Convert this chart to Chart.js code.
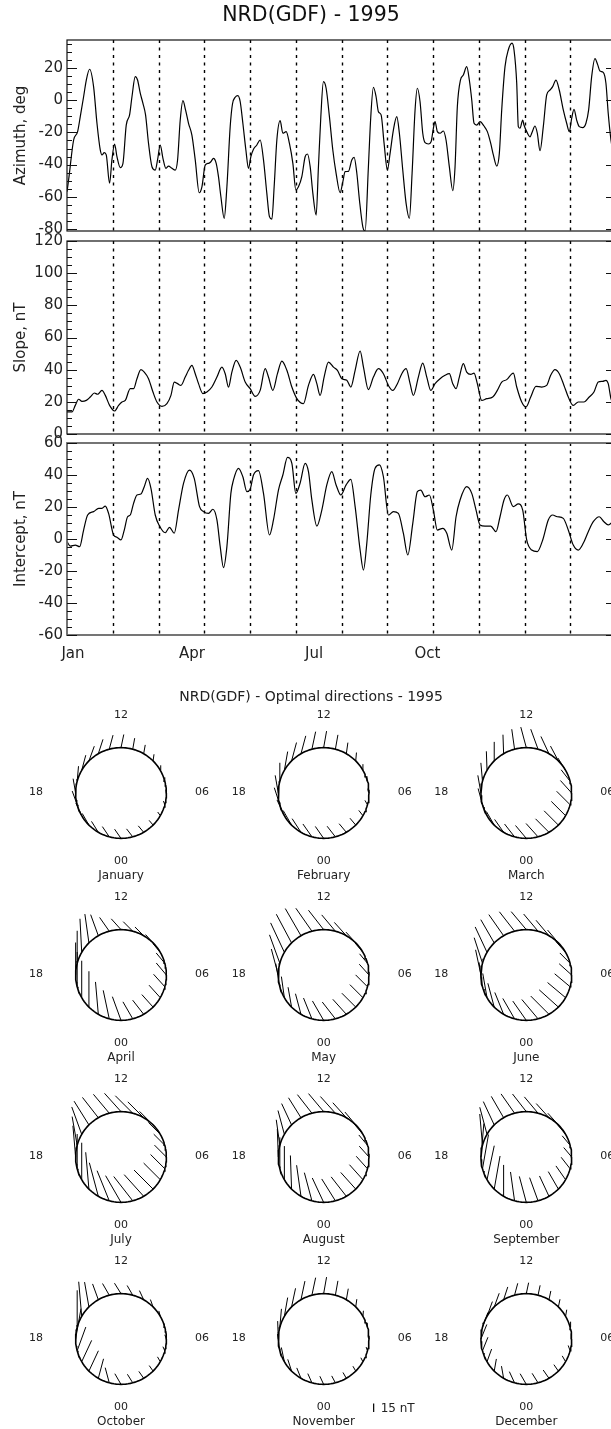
<!DOCTYPE html>
<html>
<head>
<meta charset="utf-8">
<title>NRD(GDF) - 1995</title>
<script src="https://cdn.jsdelivr.net/npm/chart.js@4.4.1/dist/chart.umd.min.js"></script>
<style>
  html, body { margin: 0; padding: 0; background: #fff; overflow: hidden; }
  #page { position: relative; width: 622px; height: 1429px; }
  canvas { position: absolute; left: 0; }
</style>
</head>
<body>
<div id="page">
  <canvas id="azimuth" width="622" height="246" style="top:0px"></canvas>
  <canvas id="slope" width="622" height="233" style="top:221px"></canvas>
  <canvas id="intercept" width="622" height="257" style="top:423px"></canvas>
  <canvas id="directions" width="622" height="749" style="top:680px"></canvas>
</div>
<script>
// ---------- time axis (months since start of 1995) ----------
const monthBounds = [1, 2, 3, 4, 5, 6, 7, 8, 9, 10, 11];
const monthTickLabels = ['Jan', 'Apr', 'Jul', 'Oct'];
const monthTickPos = [0.13, 2.73, 5.40, 7.88];

// ---------- azimuth, deg ----------
const azMonth = [0.00,0.035,0.145,0.232,0.29,0.363,0.422,0.494,0.581,0.655,
  0.727,0.764,0.815,0.858,0.931,0.982,1.040,1.092,1.164,1.223,
  1.295,1.368,1.420,1.492,1.542,1.601,1.660,1.717,1.782,1.857,
  1.929,1.979,2.038,2.097,2.162,2.219,2.294,2.366,2.417,2.475,
  2.534,2.591,2.656,2.730,2.803,2.890,2.949,3.021,3.093,3.145,
  3.202,3.261,3.311,3.364,3.436,3.495,3.567,3.617,3.676,3.735,
  3.786,3.844,3.910,3.967,4.019,4.076,4.150,4.222,4.295,4.368,
  4.425,4.478,4.528,4.587,4.659,4.718,4.790,4.862,4.937,5.002,
  5.059,5.133,5.205,5.256,5.315,5.374,5.446,5.496,5.548,5.605,
  5.664,5.736,5.810,5.882,5.970,6.029,6.079,6.151,6.225,6.276,
  6.335,6.392,6.466,6.516,6.588,6.640,6.697,6.756,6.807,6.866,
  6.931,7.003,7.062,7.134,7.208,7.265,7.339,7.412,7.484,7.543,
  7.608,7.658,7.717,7.776,7.827,7.899,7.958,8.008,8.045,8.095,
  8.154,8.226,8.285,8.357,8.432,8.482,8.532,8.600,8.663,8.737,
  8.794,8.847,8.897,8.956,9.028,9.115,9.188,9.262,9.319,9.393,
  9.450,9.502,9.574,9.646,9.727,9.771,9.830,9.865,9.902,9.961,
  9.989,10.048,10.120,10.171,10.229,10.280,10.339,10.411,10.485,10.557,
  10.616,10.688,10.760,10.848,10.922,10.979,11.031,11.082,11.140,11.197,
  11.271,11.343,11.402,11.468,11.540,11.599,11.649,11.721,11.780,11.830,
  11.890,11.95];
const azValue = [-56.9,-49.6,-24.7,-19.5,-10.2,2.2,12.6,19.3,8.5,-14.3,
  -30.9,-34,-32.6,-34,-51.6,-37.1,-27.2,-35.1,-41.9,-39.2,
  -15.4,-9.1,2.2,14.7,12.6,4.4,-1.9,-9.1,-26.8,-41.3,
  -43.4,-37.1,-27.8,-36.1,-42.3,-40.9,-42.3,-43.4,-37.1,-12.3,
  -0.2,-6.0,-14.3,-21.6,-37.1,-57.5,-53.8,-40.3,-39.2,-38.2,
  -36.1,-39.2,-47.5,-60,-73.4,-53.8,-16.4,-2.3,1.9,2.9,
  -0.9,-14.3,-30.9,-42.3,-35.1,-30.5,-27.8,-24.7,-37.1,-57.9,
  -72.4,-74.0,-53.8,-24.7,-12.7,-20.5,-19.5,-26.8,-39.2,-55.8,
  -53.8,-47.5,-35.1,-33.4,-41.3,-57.9,-71.4,-41.3,-10.2,11.6,
  7.5,-10.2,-30.9,-45.4,-57.5,-50.7,-44.4,-44.2,-37.1,-35.5,
  -45.4,-62,-78.7,-81.3,-41.3,-10.2,8.1,2.2,-7.1,-9.1,
  -26.8,-43.4,-33,-18.5,-10.2,-20.5,-43.4,-64.1,-73.4,-45.4,
  -6.0,7.5,-0.9,-20.5,-26.4,-27.2,-25.8,-17.4,-13.3,-19.5,
  -20.5,-19.1,-24.7,-41.3,-56.2,-41.3,-4.0,12.6,15.7,20.9,
  12.6,0.2,-14.3,-15.4,-13.3,-16.0,-19.5,-26.8,-34.0,-40.9,
  -33.0,-6.0,20.9,31.3,35.5,31.3,10.6,-16.4,-17.4,-12.3,
  -15.4,-19.5,-22.7,-19.5,-16.0,-20.5,-31.4,-16.4,3.3,6.4,
  8.5,12.6,6.4,-6.0,-14.3,-19.5,-11.2,-5.6,-12.3,-16.4,
  -17.0,-14.3,-6.0,14.7,25.9,22.2,18.2,17.4,10.6,-8.1,
  -24.7,-35];

// ---------- slope, nT ----------
const slopeMonth = [0,0.109,0.181,0.254,0.327,0.422,0.509,0.597,0.669,0.764,
  0.837,0.931,1.040,1.128,1.201,1.274,1.383,1.455,1.529,1.616,
  1.689,1.782,1.879,1.966,2.075,2.184,2.272,2.344,2.416,2.490,
  2.584,2.656,2.730,2.803,2.875,2.971,3.058,3.167,3.277,3.386,
  3.458,3.530,3.604,3.698,3.786,3.895,4.004,4.113,4.222,4.332,
  4.404,4.500,4.600,4.696,4.806,4.915,5.024,5.168,5.278,5.387,
  5.461,5.533,5.620,5.715,5.824,5.911,6.007,6.116,6.204,6.298,
  6.407,6.480,6.588,6.697,6.807,6.916,7.025,7.121,7.222,7.318,
  7.412,7.499,7.571,7.680,7.776,7.864,7.951,8.045,8.154,8.264,
  8.357,8.432,8.504,8.576,8.663,8.737,8.825,8.897,8.969,9.065,
  9.174,9.305,9.406,9.502,9.611,9.756,9.830,9.939,10.033,10.136,
  10.251,10.376,10.485,10.572,10.666,10.760,10.863,10.957,11.066,11.175,
  11.300,11.415,11.518,11.612,11.708,11.780,11.830,11.890,11.95];
const slopeValue = [13.7,13.7,17.8,21.6,20.3,20.9,23.0,25.5,24.7,27.1,
  24.0,17.8,14.3,17.8,19.9,20.9,28.2,28.2,34.4,40.0,
  38.5,34.4,26.1,19.9,17.2,18.9,24.0,32.3,31.3,30.2,
  35.4,39.6,42.7,37.5,31.3,25.1,26.1,29.2,35.4,41.6,
  37.5,29.2,38.5,45.8,41.6,32.3,28.2,23.4,27.1,40.6,
  35.4,27.1,37.5,45.3,39.6,29.2,22.0,18.9,30.2,37.1,
  31.3,24.0,35.4,44.7,41.6,39.6,34.4,33.4,29.2,39.6,
  51.6,41.6,27.6,35.4,40.6,37.5,30.2,27.1,31.3,37.5,
  40.6,31.3,24.0,35.4,44.1,35.4,27.1,31.3,34.4,36.5,
  37.5,31.3,28.2,35.4,43.7,38.5,37.1,37.9,31.3,20.9,
  22.0,23.0,27.1,32.3,33.8,37.9,29.2,19.9,16.8,23.0,
  29.6,29.2,30.2,36.5,40.0,37.5,30.2,23.0,17.8,19.9,
  19.9,23.0,26.1,32.3,32.7,33.4,31.3,22.0,18];

// ---------- intercept, nT ----------
const icptMonth = [0,0.072,0.181,0.276,0.363,0.451,0.581,0.691,0.764,0.837,
  0.909,1.018,1.092,1.180,1.252,1.324,1.383,1.455,1.529,1.616,
  1.689,1.761,1.835,1.929,2.023,2.147,2.241,2.344,2.438,2.547,
  2.678,2.781,2.897,2.984,3.093,3.189,3.277,3.349,3.421,3.495,
  3.582,3.639,3.748,3.844,3.932,4.004,4.076,4.185,4.295,4.425,
  4.513,4.622,4.718,4.819,4.915,5.002,5.096,5.205,5.278,5.352,
  5.461,5.570,5.679,5.788,5.882,5.985,6.101,6.204,6.298,6.407,
  6.480,6.553,6.640,6.734,6.829,6.916,7.025,7.134,7.243,7.352,
  7.449,7.558,7.658,7.733,7.827,7.920,8.008,8.095,8.213,8.301,
  8.410,8.504,8.591,8.737,8.847,8.941,9.028,9.137,9.262,9.377,
  9.465,9.552,9.625,9.756,9.865,9.961,10.048,10.157,10.280,10.398,
  10.520,10.616,10.717,10.848,10.957,11.066,11.175,11.284,11.394,11.503,
  11.634,11.737,11.830,11.890,11.95];
const icptValue = [-1.7,-4.4,-3.8,-4.8,5.6,15.0,17.1,19.2,19.2,20.6,
  16.0,2.5,1.1,-0.6,5.6,13.9,15.0,22.3,27.5,28.1,
  32.7,37.9,31.7,15.0,8.1,3.9,7.3,3.6,18.1,34.8,
  43.1,37.9,20.2,17.1,16.0,18.6,11.9,-4.8,-17.9,-4.8,
  28.5,36.9,44.2,38.9,29.6,31.1,40.0,42.7,28.5,2.5,
  11.9,30.6,40.0,51.0,47.3,28.5,35.0,47.3,42.1,24.4,
  8.1,18.1,33.8,42.1,33.8,27.5,33.8,37.3,20.2,-6.9,
  -19.4,-2.7,27.5,44.2,46.3,38.9,15.0,17.1,16.0,3.6,
  -10.0,9.8,29.6,30.6,26.4,27.5,18.1,5.6,6.7,3.6,
  -6.9,13.9,24.4,32.7,28.5,18.1,8.8,8.1,8.1,4.6,
  13.9,24.4,27.5,20.2,21.9,18.1,-0.6,-6.9,-7.9,-0.6,
  11.9,15.0,13.9,12.9,5.6,-3.8,-6.9,-2.7,4.6,10.8,
  13.9,10.8,8.8,9.8,11];

// ---------- hourly optimal directions (azimuth deg, length nT), hours 00..23 ----------
const monthNames = ['January','February','March','April','May','June',
  'July','August','September','October','November','December'];
const hourLabels = ['12', '18', '06', '00'];
const janAz = [-35,-38,-40,-40,-35,-20,-10,0,5,8,10,10,12,15,18,20,15,5,-10,-20,-25,-30,-32,-34];
const janLen = [20,18,15,11,8,7,6,7,9,12,16,20,24,26,27,28,28,27,26,26,25,24,23,22];
const febAz = [-35,-38,-40,-40,-38,-30,-15,-5,0,5,8,10,10,12,15,15,10,0,-10,-18,-25,-30,-33,-35];
const febLen = [26,24,20,16,12,9,8,9,11,15,20,26,30,32,33,34,34,33,32,32,31,30,29,28];
const marAz = [-40,-42,-45,-45,-45,-45,-42,-38,-32,-28,-25,-20,-15,-8,-2,0,-2,-5,-10,-15,-22,-30,-35,-38];
const marLen = [30,32,34,36,36,34,30,26,26,30,34,38,38,36,34,34,34,33,32,30,28,28,28,29];
const aprAz = [-20,-30,-38,-42,-42,-42,-40,-40,-40,-42,-45,-45,-42,-35,-20,-8,-3,0,0,0,0,0,-5,-12];
const aprLen = [45,35,32,30,30,30,28,24,20,20,22,24,26,30,40,52,60,58,58,62,66,64,58,52];
const mayAz = [-30,-38,-42,-45,-45,-45,-42,-40,-40,-42,-42,-40,-38,-35,-30,-28,-25,-20,-15,-10,-8,-10,-15,-22];
const mayLen = [40,38,36,35,33,30,26,22,22,26,32,38,44,50,56,58,58,54,48,42,38,36,38,40];
const junAz = [-35,-40,-45,-48,-50,-50,-48,-45,-42,-40,-40,-40,-40,-38,-35,-30,-25,-18,-12,-8,-10,-15,-22,-30];
const junLen = [42,45,46,46,42,36,30,26,26,30,36,40,42,44,46,48,50,48,46,44,44,44,42,42];
const julAz = [-30,-38,-42,-45,-45,-45,-45,-45,-45,-45,-45,-45,-42,-40,-38,-32,-20,-10,-5,0,0,-5,-15,-22];
const julLen = [55,55,52,48,42,36,30,28,30,34,40,44,44,44,46,50,52,52,56,62,66,66,62,58];
const augAz = [-25,-32,-38,-42,-42,-42,-42,-40,-40,-40,-42,-42,-40,-38,-32,-25,-15,-8,-2,0,0,-2,-8,-15];
const augLen = [48,46,44,40,36,30,26,24,26,30,36,40,42,42,42,42,44,46,50,56,60,60,56,52];
const sepAz = [-15,-20,-25,-30,-35,-38,-40,-40,-40,-42,-42,-40,-38,-35,-30,-25,-15,-5,5,10,12,10,0,-8];
const sepLen = [48,44,40,36,30,26,22,22,24,28,34,38,40,42,44,46,50,56,60,62,62,60,56,52];
const octAz = [-30,-32,-35,-35,-30,-25,-20,-15,-15,-20,-25,-30,-32,-30,-20,-10,-5,0,10,20,25,25,15,-15];
const octLen = [22,18,15,12,10,8,8,8,10,14,18,20,22,24,30,45,62,66,55,45,42,40,36,28];
const novAz = [-25,-28,-30,-30,-28,-20,-10,-2,5,8,10,10,10,12,12,12,10,5,-2,-8,-12,-18,-22,-24];
const novLen = [16,14,12,10,8,7,7,8,10,14,20,26,30,32,34,34,34,33,32,30,26,22,20,18];
const decAz = [-30,-32,-35,-35,-30,-20,-5,5,10,12,12,12,12,15,18,20,20,20,22,22,20,10,-10,-25];
const decLen = [22,20,18,14,12,10,10,10,12,14,16,18,20,22,24,26,28,28,28,26,24,22,22,22];
const scaleBarNT = 15;

const dirAzimuth = [janAz, febAz, marAz, aprAz, mayAz, junAz, julAz, augAz, sepAz, octAz, novAz, decAz];
const dirLength = [janLen, febLen, marLen, aprLen, mayLen, junLen, julLen, augLen, sepLen, octLen, novLen, decLen];

// ---------- drawing ----------
const FONT = '"DejaVu Sans", "Liberation Sans", sans-serif';
const TEXT = '#222';

// dotted month boundaries, frame and inward ticks on both sides
function panelDecor(cfg) {
  return {
    id: 'panelDecor',
    beforeDatasetsDraw(chart) {
      const { ctx, chartArea: a, scales: { x } } = chart;
      ctx.save();
      ctx.strokeStyle = '#000';
      ctx.lineWidth = 1.4;
      ctx.setLineDash([3, 4.5]);
      monthBounds.forEach(m => {
        const px = Math.round(x.getPixelForValue(m)) + 0.5;
        ctx.beginPath();
        ctx.moveTo(px, a.top);
        ctx.lineTo(px, a.bottom);
        ctx.stroke();
      });
      ctx.restore();
    },
    afterDatasetsDraw(chart) {
      const { ctx, chartArea: a, scales: { y } } = chart;
      ctx.save();
      ctx.strokeStyle = cfg.frameColor;
      ctx.lineWidth = cfg.frameWidth;
      ctx.strokeRect(a.left, a.top, a.right - a.left, a.bottom - a.top);
      ctx.strokeStyle = '#111';
      ctx.lineWidth = 1.1;
      for (let v = Math.ceil(cfg.min / cfg.minor) * cfg.minor; v <= cfg.max; v += cfg.minor) {
        const py = Math.round(y.getPixelForValue(v)) + 0.5;
        const len = (v % cfg.majorStep === 0) ? 10 : 5;
        ctx.beginPath();
        ctx.moveTo(a.left, py); ctx.lineTo(a.left + len, py);
        ctx.moveTo(a.right, py); ctx.lineTo(a.right - len, py);
        ctx.stroke();
      }
      if (cfg.title) {
        ctx.fillStyle = '#111';
        ctx.font = `20.5px ${FONT}`;
        ctx.textAlign = 'center';
        ctx.textBaseline = 'middle';
        ctx.fillText(cfg.title, 311, 16);
      }
      ctx.restore();
    }
  };
}

function makePanel(id, xs, ys, cfg) {
  const majors = [];
  for (let v = Math.ceil(cfg.min / cfg.majorStep) * cfg.majorStep; v <= cfg.max; v += cfg.majorStep) majors.push(v);
  return new Chart(document.getElementById(id), {
    type: 'line',
    data: {
      datasets: [{
        data: xs.map((x, i) => ({ x, y: ys[i] })),
        borderColor: '#000',
        borderWidth: 1.2,
        pointRadius: 0,
        cubicInterpolationMode: 'monotone',
        fill: false
      }]
    },
    options: {
      responsive: false,
      animation: false,
      events: [],
      layout: { padding: { top: cfg.padTop, bottom: cfg.padBottom, left: 0, right: 6 } },
      plugins: { legend: { display: false }, tooltip: { enabled: false }, title: { display: false } },
      scales: {
        x: {
          type: 'linear', min: 0, max: 12, display: cfg.showX,
          grid: { display: false, drawTicks: false }, border: { display: false },
          afterBuildTicks: s => { s.ticks = monthTickPos.map(v => ({ value: v })); },
          ticks: {
            autoSkip: false, maxRotation: 0, padding: 10, color: TEXT,
            font: { family: FONT, size: 15 },
            callback: (v, i) => monthTickLabels[i]
          },
          afterFit: s => { s.height = cfg.xHeight; s.paddingLeft = 0; s.paddingRight = 0; }
        },
        y: {
          type: 'linear', min: cfg.min, max: cfg.max,
          grid: { display: false, drawTicks: false }, border: { display: false },
          afterBuildTicks: s => { s.ticks = majors.map(v => ({ value: v })); },
          ticks: { autoSkip: false, padding: 4, color: TEXT, font: { family: FONT, size: 15 } },
          title: { display: true, text: cfg.yTitle, color: TEXT, font: { family: FONT, size: 15 }, padding: { top: 12, bottom: 0 } },
          afterFit: s => { s.width = 67; s.paddingTop = 0; s.paddingBottom = 0; }
        }
      }
    },
    plugins: [panelDecor(cfg)]
  });
}

makePanel('azimuth', azMonth, azValue, {
  min: -81.3, max: 37.5, majorStep: 20, minor: 5, yTitle: 'Azimuth, deg',
  padTop: 40, padBottom: 15, showX: false, xHeight: 0,
  frameColor: '#111', frameWidth: 1.2, title: 'NRD(GDF) - 1995'
});
makePanel('slope', slopeMonth, slopeValue, {
  min: 0, max: 120, majorStep: 20, minor: 5, yTitle: 'Slope, nT',
  padTop: 20, padBottom: 20, showX: false, xHeight: 0,
  frameColor: '#111', frameWidth: 1.2
});
makePanel('intercept', icptMonth, icptValue, {
  min: -60, max: 60, majorStep: 20, minor: 5, yTitle: 'Intercept, nT',
  padTop: 20, padBottom: 0, showX: true, xHeight: 45,
  frameColor: '#666', frameWidth: 1.8
});

// ---------- optimal directions: circles with hourly hairs ----------
const K = 0.56;          // pixels per nT on the direction diagrams
const R = 81;            // circle radius in nT units
const CANVAS_H = 749;

function cellCenter(i) {
  const col = i % 3, row = Math.floor(i / 3);
  const px = 121 + 202.65 * col;
  const py = 113 + 182 * row;
  return { x: px / K, y: (CANVAS_H - py) / K };
}

const dirDatasets = [];
monthNames.forEach((name, i) => {
  const c = cellCenter(i);
  const ring = [];
  for (let k = 0; k <= 120; k++) {
    const t = (k / 120) * 2 * Math.PI;
    ring.push({ x: c.x + R * Math.cos(t), y: c.y + R * Math.sin(t) });
  }
  dirDatasets.push({ data: ring, showLine: true, borderColor: '#000', borderWidth: 1.6, pointRadius: 0 });
  const hairs = [];
  dirAzimuth[i].forEach((az, h) => {
    const phi = (h * 15 - 90) * Math.PI / 180;
    const a = az * Math.PI / 180;
    const bx = c.x + R * Math.cos(phi), by = c.y + R * Math.sin(phi);
    const L = dirLength[i][h];
    hairs.push({ x: bx, y: by });
    hairs.push({ x: bx + L * Math.sin(a), y: by + L * Math.cos(a) });
    hairs.push({ x: null, y: null });
  });
  dirDatasets.push({ data: hairs, showLine: true, spanGaps: false, borderColor: '#000', borderWidth: 1.0, pointRadius: 0 });
});

// 15 nT scale bar beside the November diagram
const nov = cellCenter(10);
const barX = nov.x + 50 / K;
const barY0 = nov.y - 73 / K;
dirDatasets.push({
  data: [{ x: barX, y: barY0 }, { x: barX, y: barY0 + scaleBarNT }],
  showLine: true, borderColor: '#000', borderWidth: 1.2, pointRadius: 0
});

const dirLabels = {
  id: 'dirLabels',
  afterDatasetsDraw(chart) {
    const { ctx, scales: { x, y } } = chart;
    ctx.save();
    ctx.fillStyle = TEXT;
    ctx.textAlign = 'center';
    ctx.textBaseline = 'middle';
    ctx.font = `14px ${FONT}`;
    ctx.fillText('NRD(GDF) - Optimal directions - 1995', 311, 17);
    monthNames.forEach((name, i) => {
      const c = cellCenter(i);
      const px = x.getPixelForValue(c.x), py = y.getPixelForValue(c.y);
      ctx.font = `11px ${FONT}`;
      ctx.fillText(hourLabels[0], px, py - 78);
      ctx.fillText(hourLabels[1], px - 85, py - 1);
      ctx.fillText(hourLabels[2], px + 81, py - 1);
      ctx.fillText(hourLabels[3], px, py + 68);
      ctx.font = `12px ${FONT}`;
      ctx.fillText(name, px, py + 83);
    });
    ctx.font = `12px ${FONT}`;
    ctx.textAlign = 'left';
    const bx = x.getPixelForValue(barX), by = y.getPixelForValue(barY0 + scaleBarNT / 2);
    ctx.fillText(scaleBarNT + ' nT', bx + 7, by + 1);
    ctx.restore();
  }
};

new Chart(document.getElementById('directions'), {
  type: 'scatter',
  data: { datasets: dirDatasets },
  options: {
    responsive: false,
    animation: false,
    events: [],
    layout: { padding: 0 },
    plugins: { legend: { display: false }, tooltip: { enabled: false } },
    scales: {
      x: { type: 'linear', min: 0, max: 622 / K, display: false },
      y: { type: 'linear', min: 0, max: CANVAS_H / K, display: false }
    }
  },
  plugins: [dirLabels]
});
</script>
</body>
</html>
